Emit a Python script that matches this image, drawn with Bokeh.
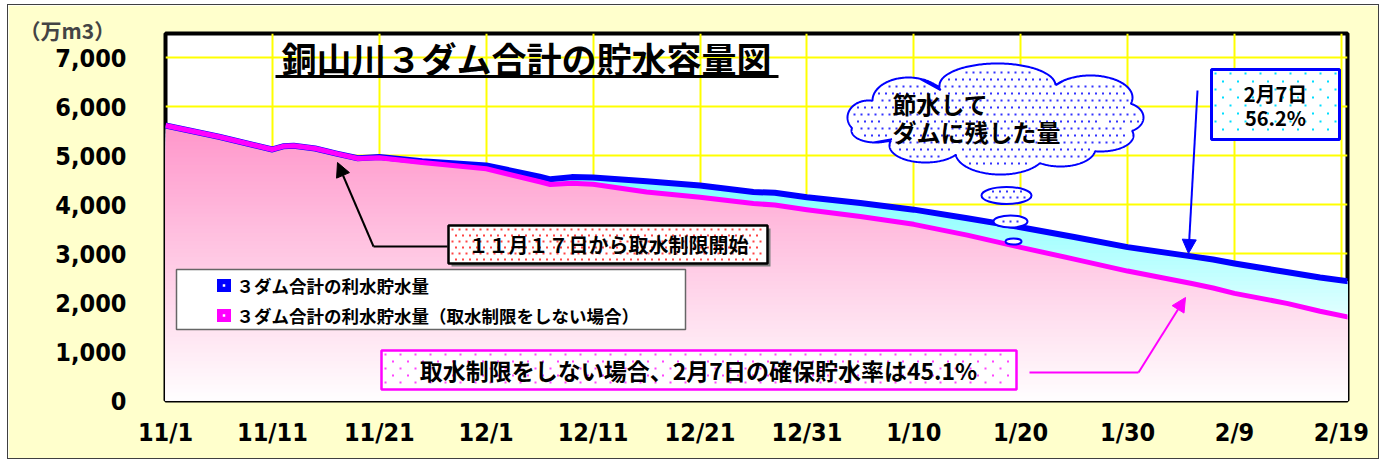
import numpy as np
from bokeh.plotting import figure
from bokeh.models import Range1d, FixedTicker, Label, Arrow, NormalHead
from bokeh.embed import file_html
from bokeh.resources import INLINE

# ---------------- data ----------------
X_TICK_DAYS = [0, 10, 20, 30, 40, 50, 60, 70, 80, 90, 100, 110]
X_TICK_LABELS = ["11/1", "11/11", "11/21", "12/1", "12/11", "12/21",
                 "12/31", "1/10", "1/20", "1/30", "2/9", "2/19"]
Y_TICKS = [0, 1000, 2000, 3000, 4000, 5000, 6000, 7000]
Y_TICK_LABELS = ["0", "1,000", "2,000", "3,000", "4,000", "5,000", "6,000", "7,000"]
UNIT_LABEL = "（万m3）"

# days counted from 11/1
DAYS = [0, 5, 10, 11, 12, 14, 16, 18, 20, 24, 30, 35, 36, 38, 40, 45, 50, 55, 57,
        60, 65, 70, 75, 80, 85, 90, 96, 98, 100, 105, 108, 111]
# 3ダム合計の利水貯水量 (万m3)
STORAGE = [5620, 5390, 5130, 5195, 5205, 5150, 5045, 4950, 4975, 4890, 4805, 4575,
           4520, 4565, 4555, 4480, 4395, 4260, 4245, 4155, 4035, 3900, 3725, 3540,
           3340, 3135, 2945, 2880, 2800, 2620, 2515, 2425]
# 3ダム合計の利水貯水量（取水制限をしない場合） (万m3)
STORAGE_NO_LIMIT = [5620, 5390, 5130, 5195, 5205, 5150, 5045, 4945, 4960, 4865, 4735,
                    4470, 4415, 4440, 4420, 4260, 4155, 4025, 3995, 3900, 3760, 3600,
                    3380, 3130, 2890, 2645, 2390, 2300, 2190, 1980, 1825, 1690]
SERIES_NAMES = ["３ダム合計の利水貯水量", "３ダム合計の利水貯水量（取水制限をしない場合）"]

FONT = "Noto Sans CJK JP"
TICK_FONT = "DejaVu Sans Condensed"

# canvas origin on the page
OX, OY = 8, 5

# ---------------- figure ----------------
p = figure(width=1372, height=455, x_range=Range1d(0, 110.57), y_range=Range1d(0, 7500),
           output_backend="svg", toolbar_location=None,
           min_border_left=165 - OX, min_border_right=OX + 1372 - 1347,
           min_border_top=33 - OY, min_border_bottom=OY + 455 - 400,
           background_fill_color="white", border_fill_color="#FFFFCC")
p.styles = {"margin-left": f"{OX - 1}px", "margin-top": f"{OY - 1}px",
            "border": "1px solid #404040"}
p.outline_line_color = "black"
p.outline_line_width = 4

p.title.text = UNIT_LABEL
p.title.align = "left"
p.title.offset = -146
p.title.standoff = -22
p.title.text_font = FONT
p.title.text_font_style = "bold"
p.title.text_font_size = "21px"

for g in (p.xgrid, p.ygrid):
    g.grid_line_color = "#FFFF00"
    g.grid_line_width = 2
p.xgrid.ticker = FixedTicker(ticks=X_TICK_DAYS)
p.ygrid.ticker = FixedTicker(ticks=Y_TICKS)

p.xaxis.ticker = FixedTicker(ticks=X_TICK_DAYS)
p.xaxis.major_label_overrides = dict(zip(X_TICK_DAYS, X_TICK_LABELS))
p.yaxis.ticker = FixedTicker(ticks=Y_TICKS)
p.yaxis.major_label_overrides = dict(zip(Y_TICKS, Y_TICK_LABELS))
for ax in (p.xaxis[0], p.yaxis[0]):
    ax.axis_line_color = None
    ax.major_tick_line_color = None
    ax.minor_tick_line_color = None
    ax.major_label_text_font = TICK_FONT
    ax.major_label_text_font_style = "bold"
    ax.major_label_text_color = "black"
    ax.major_label_text_font_size = "25px"
p.xaxis.major_label_standoff = 11
p.yaxis.major_label_standoff = 33

# page pixel -> data helpers (used for annotation placement)
PX0, PXPD = 165.0, 1182.0 / 110.57
PY0, PYPV = 400.0, 367.0 / 7500.0
def dx(px): return (np.asarray(px, float) - PX0) / PXPD
def dy(py): return (PY0 - np.asarray(py, float)) / PYPV
def dw(w): return w / PXPD
def dh(h): return h / PYPV

def mix(c, t):
    return "#%02x%02x%02x" % tuple(int(round(255 + (ci - 255) * t)) for ci in c)

days = np.array(DAYS, dtype=float)
blue = np.array(STORAGE, dtype=float)
pink = np.array(STORAGE_NO_LIMIT, dtype=float)

# cyan gradient area (under actual storage)
for v in np.linspace(blue.max(), 0, 70)[:-1]:
    s = float(np.clip(0.00014 * v - 0.13, 0, 1))
    p.varea(x=days, y1=0, y2=np.minimum(blue, v), fill_color=mix((0, 255, 255), s))
# pink gradient area (no-restriction storage)
for v in np.linspace(pink.max(), 0, 70)[:-1]:
    t = float(np.clip(v / 5500.0, 0, 1))
    p.varea(x=days, y1=0, y2=np.minimum(pink, v), fill_color=mix((255, 153, 204), t))

p.line(days, blue, line_color="#0000FF", line_width=6, line_join="round")
p.line(days, pink, line_color="#FF00FF", line_width=5, line_join="round")

def label(text, px, py, size, align="center", color="black", font=FONT):
    p.add_layout(Label(x=float(dx(px)), y=float(dy(py)), text=text, text_align=align,
                       text_baseline="middle", text_font=font, text_font_style="bold",
                       text_font_size=f"{size}px", text_color=color))

def dot_grid(l, t, r, b, sx, sy, inset=4):
    xs, ys = [], []
    row = 0
    yy = t + inset
    while yy <= b - inset + 0.1:
        xx = l + inset + (sx / 2 if row % 2 else 0)
        while xx <= r - inset + 0.1:
            xs.append(xx)
            ys.append(yy)
            xx += sx
        yy += sy
        row += 1
    return np.array(xs), np.array(ys)

def dots(xs, ys, color, size=2):
    p.scatter(dx(xs), dy(ys), marker="square", size=size, fill_color=color,
              line_color=None)

def box(l, t, r, b, line_color, dot_color, sx, sy, lw=2.5, shadow=False):
    if shadow:
        p.quad(left=dx(l + 3), right=dx(r + 3), top=dy(t + 3), bottom=dy(b + 3),
               fill_color="#808080", line_color=None)
    p.quad(left=dx(l), right=dx(r), top=dy(t), bottom=dy(b), fill_color="white",
           line_color=line_color, line_width=lw)
    xs, ys = dot_grid(l, t, r, b, sx, sy)
    dots(xs, ys, dot_color)

# title
label("銅山川３ダム合計の貯水容量図", 526, 57, 35)
p.line(dx([275, 778]), dy([76, 76]), line_color="black", line_width=3)

# legend
p.quad(left=dx(176), right=dx(685), top=dy(269), bottom=dy(329), fill_color="white",
       line_color="#666666", line_width=1.5)
for i, (name, col) in enumerate(zip(SERIES_NAMES, ["#0000FF", "#FF00FF"])):
    cy = 285 + 30 * i
    p.rect(x=dx([223.5]), y=dy([cy]), width=dw(14), height=dh(13), fill_color=col, line_color=None)
    p.rect(x=dx([223.5]), y=dy([cy]), width=dw(2.5), height=dh(2.5), fill_color="white", line_color=None)
    label(name, 236, cy, 17.5, align="left")

# 11/17 annotation
box(448, 225, 767, 263, "black", "#FF4444", 7, 6, shadow=True)
label("１１月１７日から取水制限開始", 608, 244, 20)
p.line(dx([447, 373]), dy([246, 246]), line_color="black", line_width=2)
p.add_layout(Arrow(end=NormalHead(size=14, fill_color="black", line_color="black"),
                   x_start=float(dx(373)), y_start=float(dy(246)),
                   x_end=float(dx(337)), y_end=float(dy(162)),
                   line_color="black", line_width=2))

# no-restriction annotation
box(381, 350, 1016, 389, "#FF00FF", "#FF44FF", 15, 7)
label("取水制限をしない場合、2月7日の確保貯水率は45.1%", 698, 369, 23)
p.line(dx([1029, 1138]), dy([372, 372]), line_color="#FF00FF", line_width=2)
p.add_layout(Arrow(end=NormalHead(size=14, fill_color="#FF00FF", line_color="#FF00FF"),
                   x_start=float(dx(1138)), y_start=float(dy(372)),
                   x_end=float(dx(1185)), y_end=float(dy(297)),
                   line_color="#FF00FF", line_width=2))

# 2/7 box
box(1211, 69, 1339, 139, "#0000FF", "#00DDFF", 15, 8, lw=3)
label("2月7日", 1275, 93, 20)
label("56.2%", 1275, 117, 20)
p.add_layout(Arrow(end=NormalHead(size=14, fill_color="#0000FF", line_color="#0000FF"),
                   x_start=float(dx(1197)), y_start=float(dy(90)),
                   x_end=float(dx(1188)), y_end=float(dy(253)),
                   line_color="#0000FF", line_width=2))

# cloud (union of ellipses, page pixels)
ELL = [(995, 120, 110, 35), (868, 117, 21, 17), (908, 100, 36, 23), (997, 85, 58, 22),
       (1090, 97, 42, 22), (1122, 117, 21, 15), (1100, 135, 33, 16), (1000, 152, 45, 22),
       (1060, 148, 35, 18), (925, 145, 36, 17), (875, 130, 24, 12)]
pts = []
for i, (cx, cy, rx, ry) in enumerate(ELL):
    tt = np.linspace(0, 2 * np.pi, 240, endpoint=False)
    xx = cx + rx * np.cos(tt)
    yy = cy + ry * np.sin(tt)
    inside = np.zeros(len(tt), bool)
    for j, (cx2, cy2, rx2, ry2) in enumerate(ELL):
        if j != i:
            inside |= ((xx - cx2) / rx2) ** 2 + ((yy - cy2) / ry2) ** 2 < 0.999
    pts.extend(zip(xx[~inside], yy[~inside]))
pts = np.array(pts)
ang = np.arctan2(pts[:, 1] - 120, pts[:, 0] - 995)
pts = pts[np.argsort(ang)]
p.patch(dx(pts[:, 0]), dy(pts[:, 1]), fill_color="white", line_color="#0000FF", line_width=2)
gx, gy = dot_grid(840, 58, 1150, 180, 7, 7, inset=0)
keep = np.zeros(len(gx), bool)
for (cx, cy, rx, ry) in ELL:
    keep |= ((gx - cx) / (rx - 4)) ** 2 + ((gy - cy) / (ry - 4)) ** 2 < 1
dots(gx[keep], gy[keep], "#3333FF")

BUB = [(1006, 195, 25, 8.5), (1010, 221, 17, 6), (1013, 241, 8, 3)]
p.ellipse(x=dx([b[0] for b in BUB]), y=dy([b[1] for b in BUB]),
          width=[dw(2 * b[2]) for b in BUB], height=[dh(2 * b[3]) for b in BUB],
          fill_color="white", line_color="#0000FF", line_width=2)
gx, gy = dot_grid(975, 185, 1035, 230, 7, 6, inset=0)
keep = np.zeros(len(gx), bool)
for (cx, cy, rx, ry) in BUB[:2]:
    keep |= ((gx - cx) / (rx - 3)) ** 2 + ((gy - cy) / (ry - 2.5)) ** 2 < 1
dots(gx[keep], gy[keep], "#3333FF")

label("節水して", 892, 103, 24, align="left")
label("ダムに残した量", 892, 131, 24, align="left")

open("out.html", "w").write(file_html(p, INLINE))
